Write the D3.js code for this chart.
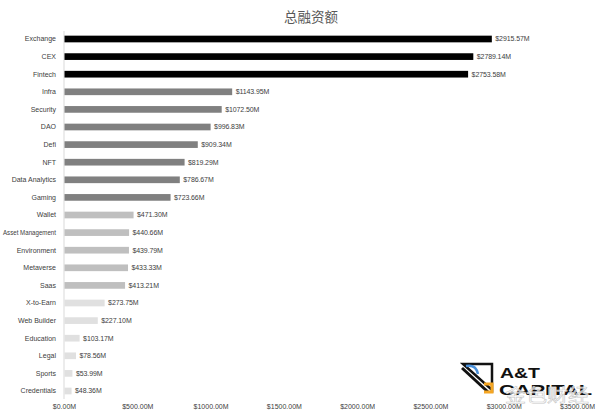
<!DOCTYPE html>
<html><head><meta charset="utf-8">
<script src="https://cdn.jsdelivr.net/npm/d3@7"></script>
<style>
body{margin:0;background:#fff;}
svg{display:block;font-family:"Liberation Sans",sans-serif;}
</style></head>
<body><svg id="c" width="600" height="417"></svg>
<script>
const categories = ["Exchange","CEX","Fintech","Infra","Security","DAO","Defi","NFT","Data Analytics","Gaming","Wallet","Asset Management","Environment","Metaverse","Saas","X-to-Earn","Web Builder","Education","Legal","Sports","Credentials"];
const values = [2915.57,2789.14,2753.58,1143.95,1072.50,996.83,909.34,819.29,786.67,723.66,471.30,440.66,439.79,433.33,413.21,273.75,227.10,103.17,78.56,53.99,48.36];
const tiers = [0,0,0,1,1,1,1,1,1,1,2,2,2,2,2,3,3,3,3,3,3];
const tickValues = [0,500,1000,1500,2000,2500,3000,3500];
const title = "总融资额";

const tierColors = ["#000000","#808080","#bfbfbf","#e0e0e0"];
const svg = d3.select("#c");
const x = d3.scaleLinear().domain([0,3500]).range([64,577]);
const y = d3.scaleBand().domain(categories).range([30.2,399.8]).paddingInner(0.62).paddingOuter(0.31);
const FONT = "'Liberation Sans',sans-serif";

svg.append("text").attr("x",311).attr("y",22).attr("text-anchor","middle")
  .attr("font-size",13.5).attr("fill","#595959")
  .attr("font-family","'Noto Sans CJK SC',sans-serif").text(title);

svg.append("line").attr("x1",x(0)).attr("x2",x(0)).attr("y1",31).attr("y2",399)
  .attr("stroke","#d9d9d9").attr("stroke-width",1);

const data = categories.map((c,i)=>({c,v:values[i],t:tiers[i]}));
svg.selectAll("rect.bar").data(data).join("rect").attr("class","bar")
  .attr("x",x(0)+0.5).attr("y",d=>y(d.c)).attr("height",y.bandwidth())
  .attr("width",d=>x(d.v)-x(0)).attr("fill",d=>tierColors[d.t]);

svg.selectAll("text.val").data(data).join("text").attr("class","val")
  .attr("x",d=>x(d.v)+4).attr("y",d=>y(d.c)+y.bandwidth()/2).attr("dy","0.35em")
  .attr("font-size",7).attr("fill","#404040").attr("font-family",FONT)
  .attr("letter-spacing",-0.1)
  .text(d=>"$"+d.v.toFixed(2)+"M");

svg.selectAll("text.cat").data(data).join("text").attr("class","cat")
  .attr("x",56).attr("y",d=>y(d.c)+y.bandwidth()/2).attr("dy","0.35em")
  .attr("text-anchor","end").attr("font-size",7).attr("fill","#404040").attr("font-family",FONT)
  .text(d=>d.c)
  .each(function(){ if(this.getComputedTextLength()>53){ d3.select(this).attr("textLength",53).attr("lengthAdjust","spacingAndGlyphs"); } });

const xAxis = d3.axisBottom(x).tickValues(tickValues).tickSize(0).tickPadding(0)
  .tickFormat(d=>"$"+d.toFixed(2)+"M");
const gx = svg.append("g").attr("transform","translate(0,404)").call(xAxis);
gx.select(".domain").remove();
gx.selectAll("text").attr("font-size",7).attr("fill","#404040").attr("font-family",FONT);

// watermark logo
const wm = svg.append("g");
wm.append("path").attr("d","M463,364 L492,364 L492,390 Z").attr("fill","none").attr("stroke","#111").attr("stroke-width",2.5);
wm.append("path").attr("d","M462,368 L488,392").attr("stroke","#111").attr("stroke-width",3);
wm.append("path").attr("d","M466,366 Q476,364 478,374").attr("fill","none").attr("stroke","#4a90d9").attr("stroke-width",2.5);
wm.append("path").attr("d","M484,384 L492,384 L492,392 L484,392").attr("fill","none").attr("stroke","#f5a623").attr("stroke-width",3);
wm.append("text").attr("x",500).attr("y",378).attr("font-size",15).attr("font-weight","bold")
  .attr("font-family",FONT).attr("fill","#111")
  .attr("textLength",40).attr("lengthAdjust","spacingAndGlyphs").text("A&T");
wm.append("text").attr("x",499).attr("y",395).attr("font-size",15).attr("font-weight","bold")
  .attr("font-family",FONT).attr("fill","#111")
  .attr("textLength",93).attr("lengthAdjust","spacingAndGlyphs").text("CAPITAL");
wm.append("text").attr("x",505).attr("y",402).attr("font-size",18)
  .attr("font-family","'Noto Sans CJK SC',sans-serif").attr("fill","#ffffff").attr("fill-opacity",0.7)
  .attr("stroke","#c8c8c8").attr("stroke-width",0.6)
  .attr("textLength",84).attr("lengthAdjust","spacingAndGlyphs").text("金色财经");
</script></body></html>
